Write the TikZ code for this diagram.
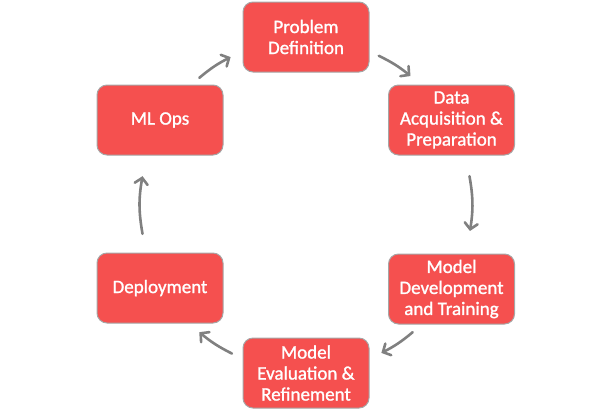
\documentclass[tikz,border=0pt]{standalone}
\usepackage{fontspec}
\setmainfont{Carlito}
\newfontfamily\stagefont[FakeBold=1.2]{Carlito}
\usetikzlibrary{arrows.meta,calc}
\definecolor{boxred}{HTML}{F5504F}
\definecolor{boxedge}{HTML}{A6A6A6}
\definecolor{arrgrey}{HTML}{808080}
\tikzset{
  stage/.style={draw=boxedge, line width=1pt, fill=boxred, rounded corners=10pt,
    minimum width=126pt, minimum height=70pt, inner sep=1pt, align=center,
    text=white, font=\stagefont\fontsize{19}{21}\selectfont},
  cyc/.style={draw=arrgrey, line width=2.6pt, line cap=round,
    -{Straight Barb[length=6pt,width=13pt,line cap=round]}},
}
\begin{document}
\begin{tikzpicture}[x=1pt,y=-1pt]
\useasboundingbox (0,0) rectangle (612,416);
\node[stage] (pd) at (306,37) {Problem\\Definition};
\node[stage] (da) at (451.5,120) {Data\\Acquisition \&\\Preparation};
\node[stage] (md) at (451.5,289) {Model\\Development\\and Training};
\node[stage] (me) at (306,373) {Model\\Evaluation \&\\Refinement};
\node[stage] (dep) at (160,288) {Deployment};
\node[stage] (ml) at (160,120) {ML Ops};
\coordinate (c) at (306,205);
\coordinate (a1s) at ($(c)+(-64:166)$);
\coordinate (a1e) at ($(c)+(-51:166)$);
\coordinate (a2s) at ($(c)+(-10:166)$);
\coordinate (a2e) at ($(c)+(9:166)$);
\coordinate (a3s) at ($(c)+(50:166)$);
\coordinate (a3e) at ($(c)+(63:166)$);
\coordinate (a4s) at ($(c)+(116.5:166)$);
\coordinate (a4e) at ($(c)+(130:166)$);
\coordinate (a5s) at ($(c)+(170:166)$);
\coordinate (a5e) at ($(c)+(190:166)$);
\coordinate (a6s) at ($(c)+(230:166)$);
\coordinate (a6e) at ($(c)+(243:166)$);
\draw[cyc] (a1s) to[bend left=6.5] (a1e);
\draw[cyc] (a2s) to[bend left=9.5] (a2e);
\draw[cyc] (a3s) to[bend left=6.5] (a3e);
\draw[cyc] (a4s) to[bend left=6.5] (a4e);
\draw[cyc] (a5s) to[bend left=10] (a5e);
\draw[cyc] (a6s) to[bend left=6.5] (a6e);
\end{tikzpicture}
\end{document}
